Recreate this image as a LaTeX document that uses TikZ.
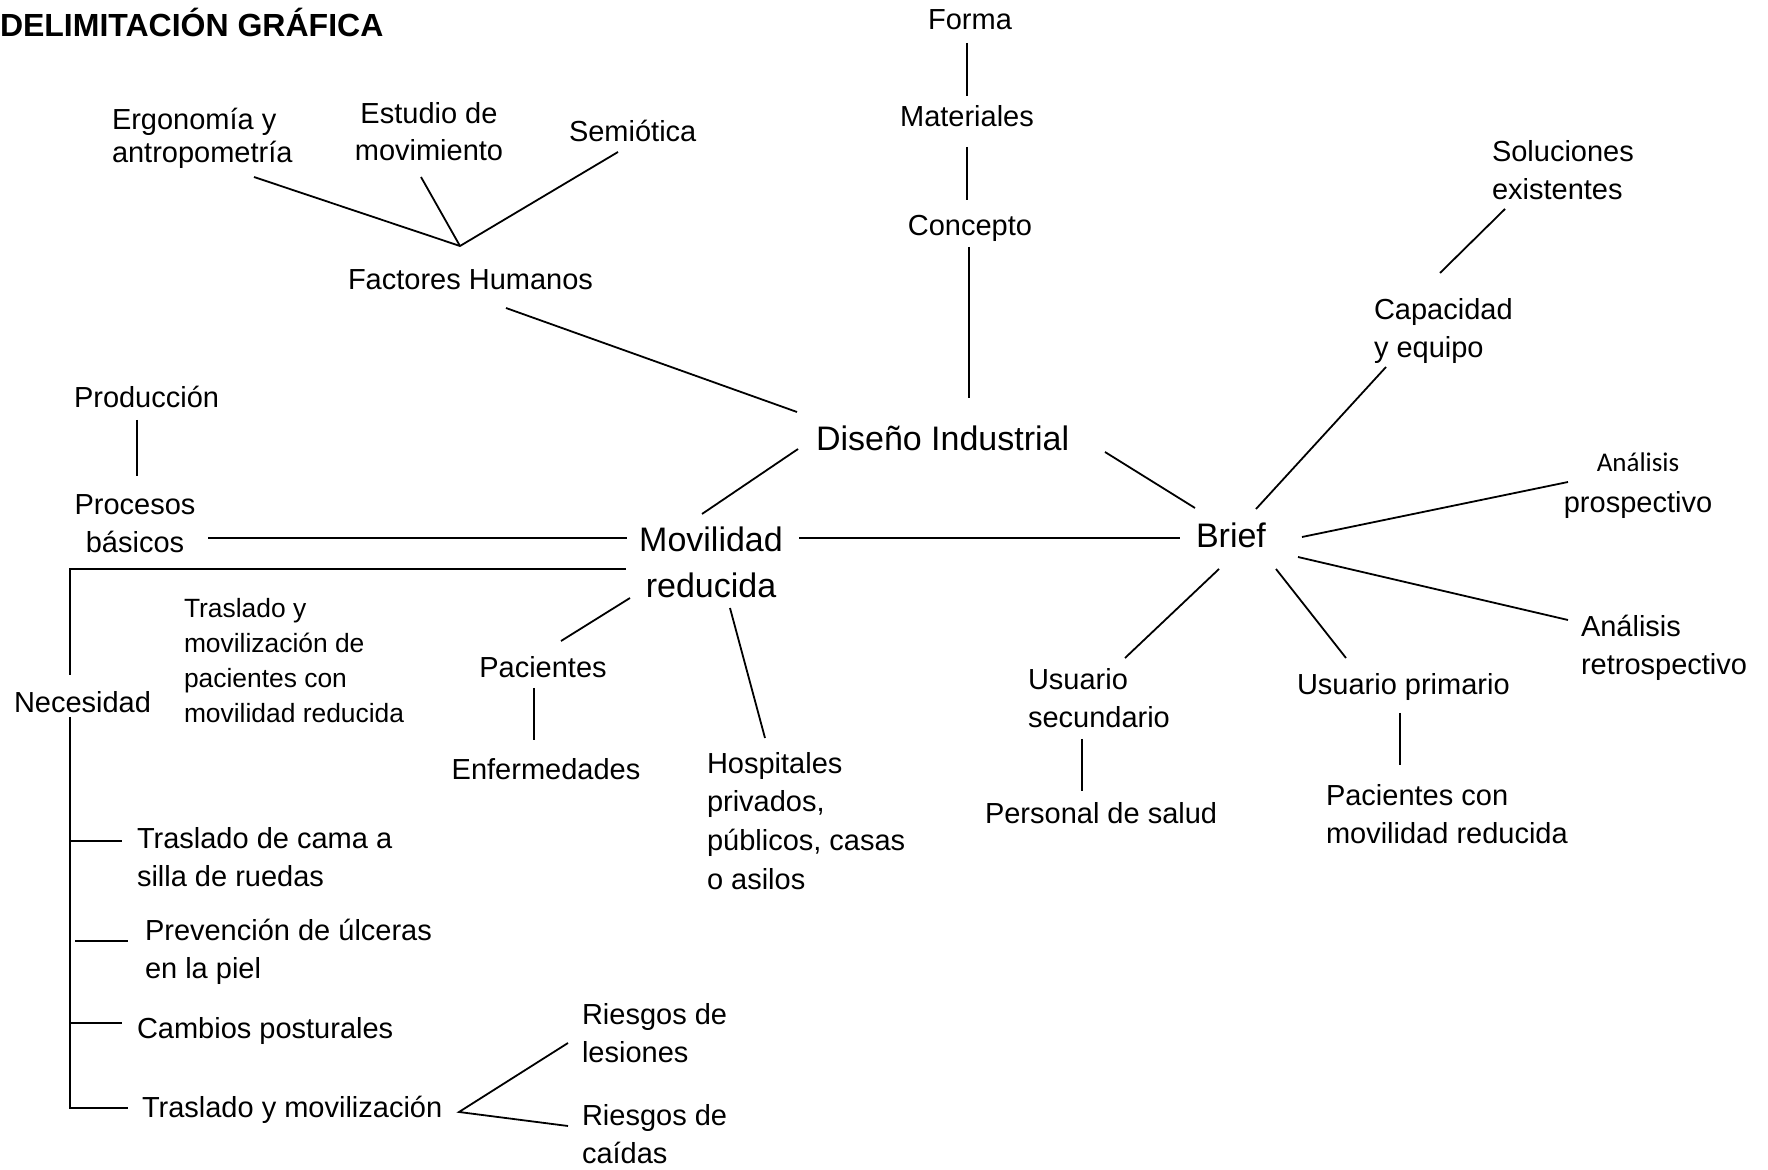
\documentclass[tikz,border=0pt]{standalone}
\usepackage{fontspec}
\setmainfont{Liberation Sans}
\newfontfamily\calib{Carlito}
\begin{document}
\begin{tikzpicture}[x=0.5pt,y=-0.5pt,
  every node/.style={inner sep=0pt,outer sep=0pt},
  reg/.style={font=\fontsize{14.5}{19}\selectfont},
  big/.style={font=\fontsize{17}{23}\selectfont},
  sml/.style={font=\fontsize{13.2}{17.5}\selectfont},
  ttl/.style={font=\fontsize{16}{19}\selectfont\bfseries},
  lnk/.style={line width=0.9pt,black}]
\useasboundingbox (0,0) rectangle (1768,1170);
% ---- texts (multi-line nodes are placed at the baseline of their last line) ----
\node[ttl,anchor=base west] (title) at (0,37) {DELIMITACIÓN GRÁFICA};
\node[reg,anchor=base] (forma) at (970,30) {Forma};
\node[reg,anchor=base] (materiales) at (967,127) {Materiales};
\node[reg,anchor=base] (concepto) at (970,236) {Concepto};
\node[reg,anchor=base west,align=left] (soluciones) at (1492,200) {Soluciones\\existentes};
\node[reg,anchor=base west,align=left] (capacidad) at (1374,358) {Capacidad\\y equipo};
\node[anchor=base west,align=left,font=\fontsize{14.5}{16.5}\selectfont] (ergo) at (112,163) {Ergonomía y\\antropometría};
\node[anchor=base,align=center,font=\fontsize{14.5}{18.5}\selectfont] (estudio) at (429,161) {Estudio de\\movimiento};
\node[reg,anchor=base west] (semiotica) at (569,142) {Semiótica};
\node[reg,anchor=base west] (factores) at (348,290) {Factores Humanos};
\node[big,anchor=base west] (diseno) at (816,451) {Diseño Industrial};
\node[big,anchor=base west] (brief) at (1196,548) {Brief};
\node[big,anchor=base,align=center] (movilidad) at (711,598) {Movilidad\\reducida};
\node[reg,anchor=base west] (produccion) at (74,408) {Producción};
\node[reg,anchor=base,align=center] (procesos) at (135,553) {Procesos\\básicos};
\node[reg,anchor=base west] (necesidad) at (14,713) {Necesidad};
\node[sml,anchor=base west,align=left] (traslado) at (184,723) {Traslado y\\movilización de\\pacientes con\\movilidad reducida};
\node[reg,anchor=base] (pacientes) at (543,678) {Pacientes};
\node[reg,anchor=base] (enfermedades) at (546,779) {Enfermedades};
\node[anchor=base west,align=left,font=\fontsize{14.5}{19.3}\selectfont] (hospitales) at (707,889) {Hospitales\\privados,\\públicos, casas\\o asilos};
\node[reg,anchor=base west,align=left] (usec) at (1028,728) {Usuario\\secundario};
\node[reg,anchor=base west] (personal) at (985,823) {Personal de salud};
\node[reg,anchor=base west] (uprim) at (1297,695) {Usuario primario};
\node[reg,anchor=base west,align=left] (pacmov) at (1326,843) {Pacientes con\\movilidad reducida};
\node[anchor=base,align=center,font=\fontsize{14.5}{20.5}\selectfont] (prosp) at (1638,513) {{\calib\fontsize{13.5}{20.5}\selectfont Análisis}\\prospectivo};
\node[reg,anchor=base west,align=left] (retro) at (1581,675) {Análisis\\retrospectivo};
\node[reg,anchor=base west,align=left] (cama) at (137,886) {Traslado de cama a\\silla de ruedas};
\node[reg,anchor=base west,align=left] (ulceras) at (145,978) {Prevención de úlceras\\en la piel};
\node[reg,anchor=base west] (cambios) at (137,1038) {Cambios posturales};
\node[reg,anchor=base west] (trasmov) at (142,1117) {Traslado y movilización};
\node[reg,anchor=base west,align=left] (lesiones) at (582,1062) {Riesgos de\\lesiones};
\node[reg,anchor=base west,align=left] (caidas) at (582,1163) {Riesgos de\\caídas};
% ---- connector end points ----
\coordinate (fmA) at (967,43);   \coordinate (fmB) at (967,96);
\coordinate (mcA) at (967,147);  \coordinate (mcB) at (967,200);
\coordinate (cdA) at (969,247);  \coordinate (cdB) at (969,398);
\coordinate (scA) at (1505,209); \coordinate (scB) at (1440,273);
\coordinate (cbA) at (1386,367); \coordinate (cbB) at (1256,509);
\coordinate (fhApex) at (460,246);
\coordinate (erA) at (254,177);  \coordinate (esA) at (421,177); \coordinate (seA) at (618,152);
\coordinate (fdA) at (506,308);  \coordinate (fdB) at (797,412);
\coordinate (dbA) at (1105,452); \coordinate (dbB) at (1195,508);
\coordinate (dmA) at (798,449);  \coordinate (dmB) at (702,514);
\coordinate (mbA) at (799,538);  \coordinate (mbB) at (1180,538);
\coordinate (pmA) at (208,538);  \coordinate (pmB) at (627,538);
\coordinate (ppA) at (137,420);  \coordinate (ppB) at (137,476);
\coordinate (nbA) at (626,569);  \coordinate (nbC) at (70,569); \coordinate (nbB) at (70,675);
\coordinate (nvA) at (70,717);   \coordinate (nvB) at (70,1108);
\coordinate (t1A) at (70,841);   \coordinate (t1B) at (122,841);
\coordinate (t2A) at (75,941);   \coordinate (t2B) at (128,941);
\coordinate (t3A) at (70,1023);  \coordinate (t3B) at (122,1023);
\coordinate (t4B) at (128,1108);
\coordinate (mpA) at (630,598);  \coordinate (mpB) at (561,641);
\coordinate (peA) at (534,688);  \coordinate (peB) at (534,740);
\coordinate (mhA) at (730,608);  \coordinate (mhB) at (765,738);
\coordinate (busA) at (1219,569);\coordinate (busB) at (1125,658);
\coordinate (upA) at (1082,739); \coordinate (upB) at (1082,791);
\coordinate (bupA) at (1276,569);\coordinate (bupB) at (1346,658);
\coordinate (ppcA) at (1400,713);\coordinate (ppcB) at (1400,765);
\coordinate (bprA) at (1302,537);\coordinate (bprB) at (1568,482);
\coordinate (breA) at (1298,557);\coordinate (breB) at (1568,620);
\coordinate (rApex) at (459,1112);
\coordinate (rlB) at (568,1043); \coordinate (rcB) at (568,1126);
% ---- connectors ----
\draw[lnk] (fmA) -- (fmB);
\draw[lnk] (mcA) -- (mcB);
\draw[lnk] (cdA) -- (cdB);
\draw[lnk] (scA) -- (scB);
\draw[lnk] (cbA) -- (cbB);
\draw[lnk] (erA) -- (fhApex) -- (seA);
\draw[lnk] (esA) -- (fhApex);
\draw[lnk] (fdA) -- (fdB);
\draw[lnk] (dbA) -- (dbB);
\draw[lnk] (dmA) -- (dmB);
\draw[lnk] (mbA) -- (mbB);
\draw[lnk] (pmA) -- (pmB);
\draw[lnk] (ppA) -- (ppB);
\draw[lnk] (nbA) -- (nbC) -- (nbB);
\draw[lnk] (nvA) -- (nvB) -- (t4B);
\draw[lnk] (t1A) -- (t1B);
\draw[lnk] (t2A) -- (t2B);
\draw[lnk] (t3A) -- (t3B);
\draw[lnk] (mpA) -- (mpB);
\draw[lnk] (peA) -- (peB);
\draw[lnk] (mhA) -- (mhB);
\draw[lnk] (busA) -- (busB);
\draw[lnk] (upA) -- (upB);
\draw[lnk] (bupA) -- (bupB);
\draw[lnk] (ppcA) -- (ppcB);
\draw[lnk] (bprA) -- (bprB);
\draw[lnk] (breA) -- (breB);
\draw[lnk] (rlB) -- (rApex) -- (rcB);
\end{tikzpicture}
\end{document}
